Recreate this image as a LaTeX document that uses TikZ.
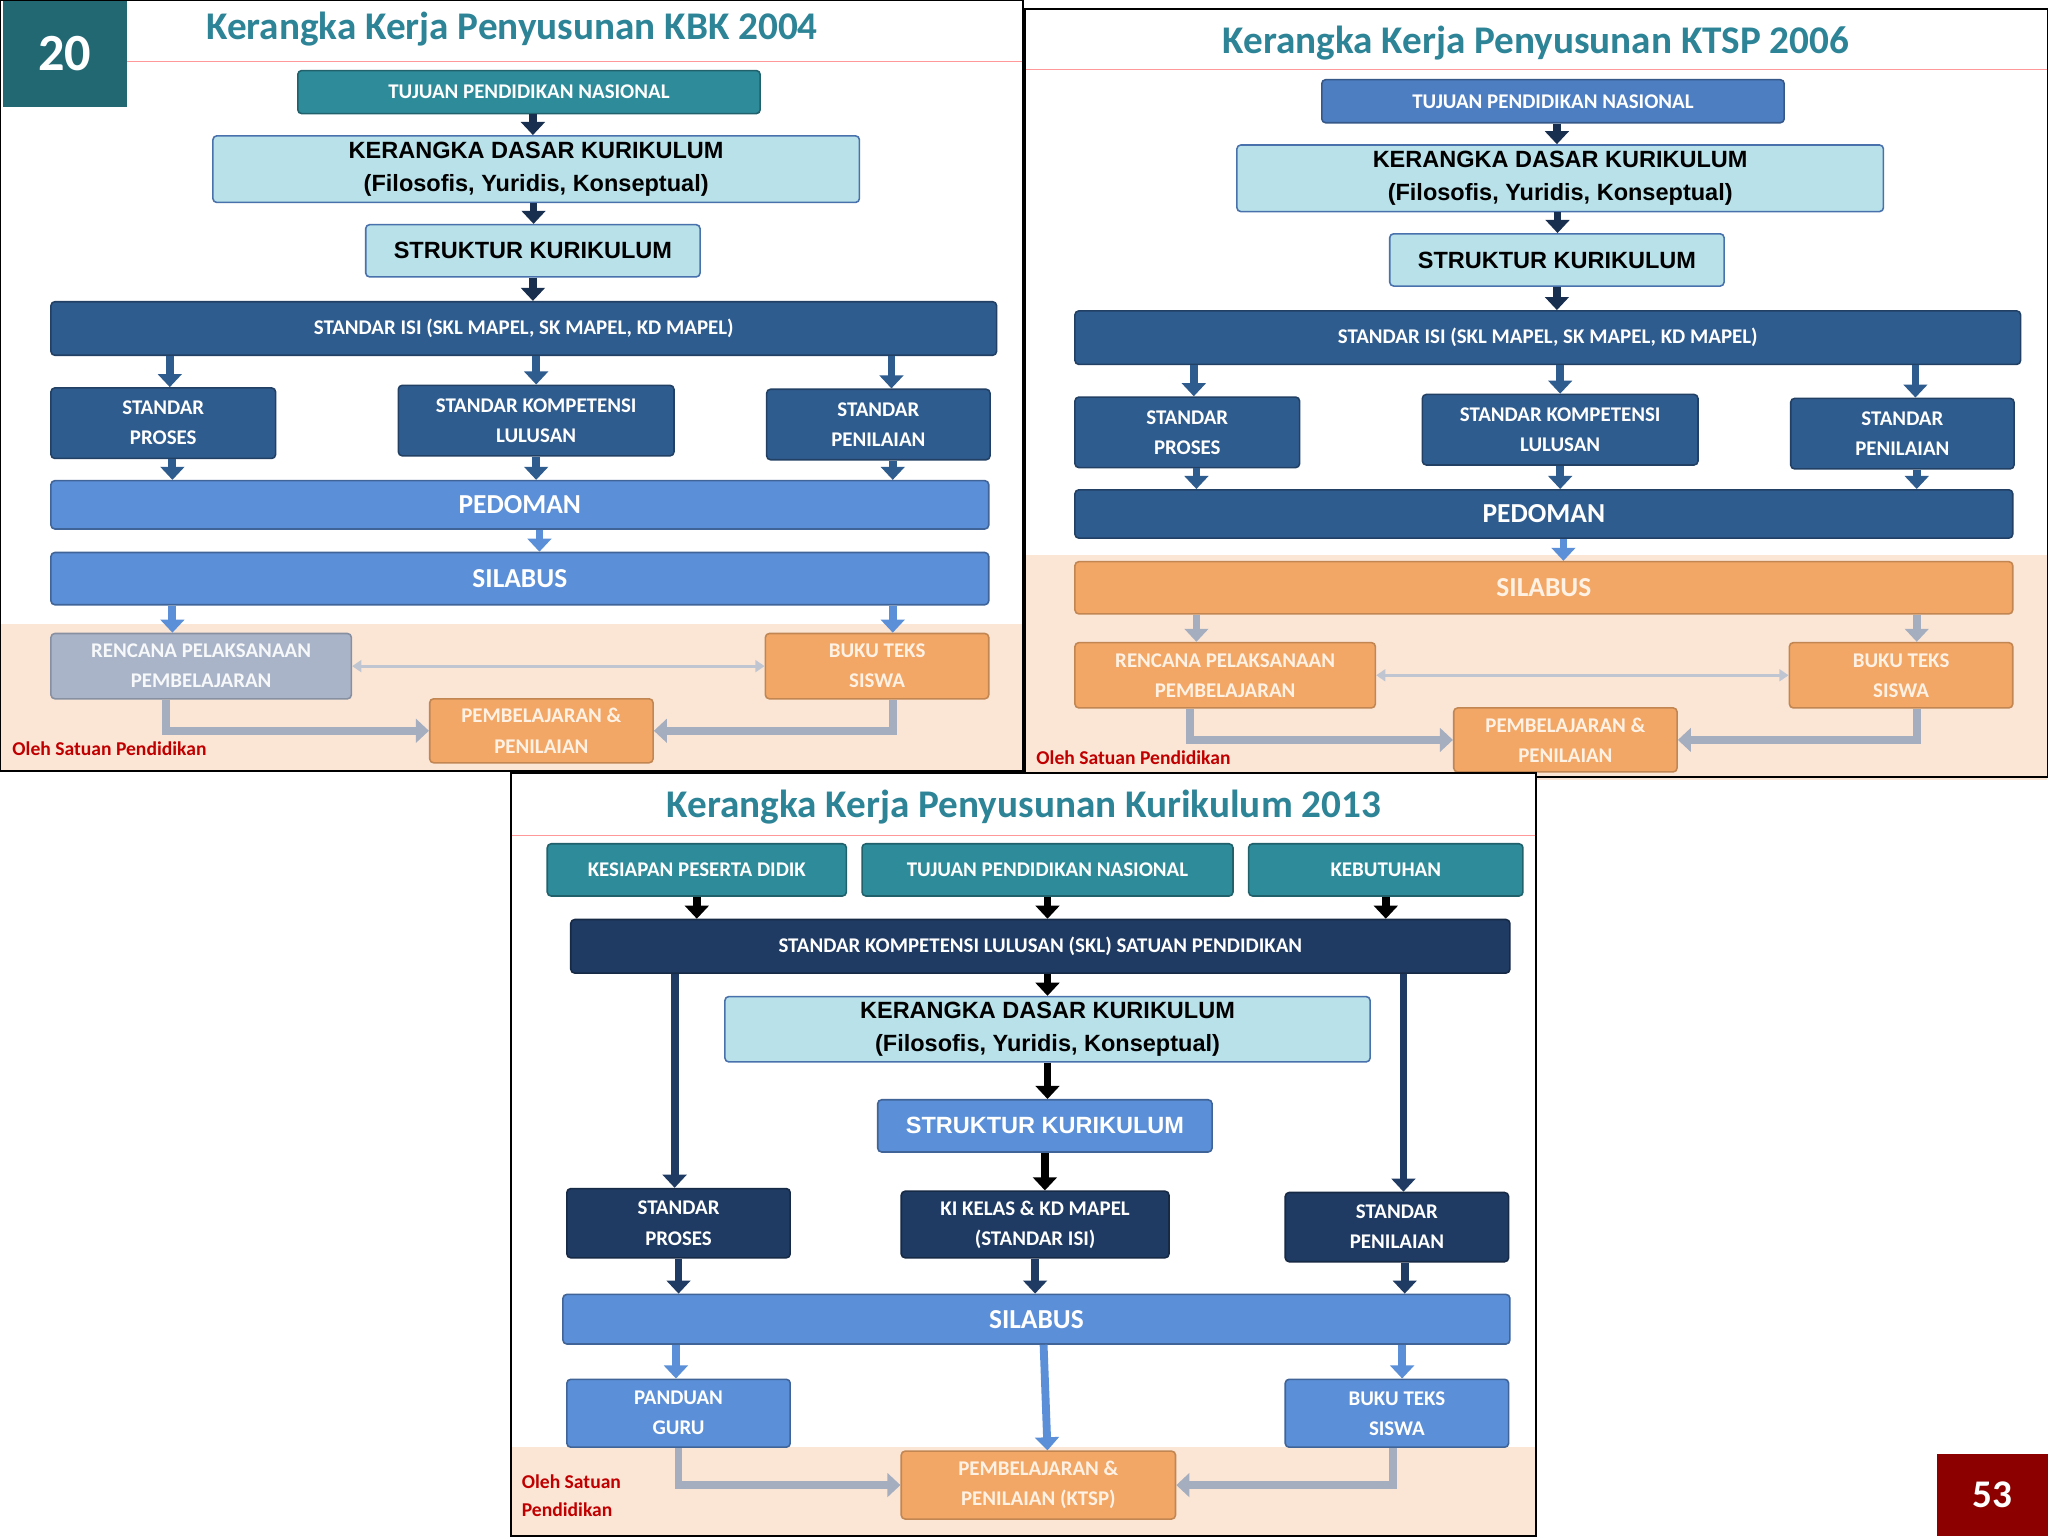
\documentclass[tikz,border=0pt]{standalone}
\usepackage{fontspec}
\setmainfont{Carlito}
\newfontfamily\arialf{Liberation Sans}
\usetikzlibrary{arrows.meta}
\definecolor{dkb}{HTML}{2F5C8F}
\definecolor{tlc}{HTML}{2E8B9A}
\definecolor{mdb}{HTML}{5B8FD8}
\definecolor{cyb}{HTML}{B8E1EA}
\definecolor{orc}{HTML}{F2A766}
\definecolor{grc}{HTML}{A9B4C8}
\definecolor{nvb}{HTML}{1F3B63}
\definecolor{pch}{HTML}{FBE6D6}
\definecolor{ttl}{HTML}{2E8497}
\definecolor{tjb}{HTML}{4D7EC2}
\definecolor{rdc}{HTML}{C00000}
\definecolor{arg}{HTML}{A5AEBE}
\tikzset{
 bx/.style={rectangle,rounded corners=3,line width=1.2,inner sep=0,align=center,text=white,font=\bfseries\fontsize{16}{23}\selectfont},
 dk/.style={bx,fill=dkb,draw=dkb!70!black},
 tl/.style={bx,fill=tlc,draw=tlc!70!black},
 tj/.style={bx,fill=tjb,draw=tjb!70!black},
 md/.style={bx,fill=mdb,draw=mdb!70!black},
 nv/.style={bx,fill=nvb,draw=nvb!70!black},
 cy/.style={bx,fill=cyb,draw=mdb!80!black,text=black,font=\arialf\bfseries\fontsize{18}{25}\selectfont},
 or/.style={bx,fill=orc,draw=orc!80!black,text=orange!10},
 gr/.style={bx,fill=grc,draw=grc!80!black,text=white!90!grc},
 big/.style={font=\bfseries\fontsize{21}{25}\selectfont},
 blk/.style={line width=6,-{Triangle[width=18,length=10]},draw=#1},
 blk/.default=dkb,
 gl/.style={line width=6,-{Triangle[width=18,length=10]},draw=arg},
 dbl/.style={line width=2.5,{Triangle[width=9,length=7]}-{Triangle[width=9,length=7]},draw=arg!70},
 ttlf/.style={text=ttl,font=\bfseries\fontsize{30}{34}\selectfont},
 oleh/.style={text=rdc,font=\bfseries\fontsize{15}{21}\selectfont,anchor=west,align=left},
}
\newcommand\bxx[7]{\node[#6,minimum width={(#4-#2)*1pt},minimum height={(#5-#3)*1pt}] (#1) at ({(#2+#4)/2},{(#3+#5)/2}) {#7};}
% #1 tujuan style, #2 pedoman style, #3 silabus style, #4 rpp style, #5 ped->sil arrow colour, #6 sil->rpp colour, #7 peach top
\newcommand\kpanel[7]{
 \fill[pch] (0,#7) rectangle (783,590);
 \bxx{tuj}{228}{54}{582}{87}{#1}{TUJUAN PENDIDIKAN NASIONAL}
 \bxx{ker}{163}{104}{658}{155}{cy}{KERANGKA DASAR KURIKULUM\\(Filosofis, Yuridis, Konseptual)}
 \bxx{str}{280}{172}{536}{212}{cy}{STRUKTUR KURIKULUM}
 \bxx{isi}{39}{231}{763}{272}{dk}{STANDAR ISI (SKL MAPEL, SK MAPEL, KD MAPEL)}
 \bxx{pro}{39}{297}{211}{351}{dk}{STANDAR\\PROSES}
 \bxx{skl}{305}{295}{516}{349}{dk}{STANDAR KOMPETENSI\\LULUSAN}
 \bxx{pen}{587}{298}{758}{352}{dk}{STANDAR\\PENILAIAN}
 \bxx{ped}{39}{368}{757}{405}{#2,big}{PEDOMAN}
 \bxx{sil}{39}{423}{757}{463}{#3,big}{SILABUS}
 \bxx{rpp}{39}{485}{269}{535}{#4}{RENCANA PELAKSANAAN\\PEMBELAJARAN}
 \bxx{buk}{586}{485}{757}{535}{or}{BUKU TEKS\\SISWA}
 \bxx{pem}{329}{535}{500}{584}{or}{PEMBELAJARAN \&\\PENILAIAN}
 \node[oleh] (ol) at (6,573) {Oleh Satuan Pendidikan};
 \draw[blk=nvb!80!black] ([xshift=3]tuj.south) -- ([xshift=3]tuj.south |- ker.north);
 \draw[blk=nvb!80!black] ([xshift=-2]ker.south) -- ([xshift=-2]ker.south |- str.north);
 \draw[blk=nvb!80!black] (str.south) -- (str.south |- isi.north);
 \draw[blk] ([xshift=5]isi.south -| pro.north) -- ([xshift=5]pro.north);
 \draw[blk] (isi.south -| skl.north) -- (skl.north);
 \draw[blk] ([xshift=10]isi.south -| pen.north) -- ([xshift=10]pen.north);
 \draw[blk] ([xshift=7]pro.south) -- ([xshift=7]pro.south |- ped.north);
 \draw[blk] (skl.south) -- (skl.south |- ped.north);
 \draw[blk] ([xshift=11]pen.south) -- ([xshift=11]pen.south |- ped.north);
 \draw[blk=#5] ([xshift=15]ped.south) -- ([xshift=15]ped.south |- sil.north);
 \draw[blk=#6] ([xshift=-266]sil.south) -- ([xshift=-266]sil.south |- rpp.north);
 \draw[blk=#6] ([xshift=12]buk.north |- sil.south) -- ([xshift=12]buk.north);
 \draw[dbl] (rpp.east) -- (buk.west);
 \draw[gl] ([xshift=-27]rpp.south) |- (pem.west);
 \draw[gl] ([xshift=12]buk.south) |- (pem.east);
}
\begin{document}
\begin{tikzpicture}[x=1pt,y=-1pt]
\fill[white] (0,0) rectangle (1568,1176);
\useasboundingbox (0,0) rectangle (1568,1176);
% panel 1
\begin{scope}[name prefix=a-]
\kpanel{tl}{md}{md}{gr}{mdb}{mdb}{478}
\draw[red!40,line width=0.8] (97,47) -- (783,47);
\node[ttlf] (t1) at (392,22) {Kerangka Kerja Penyusunan KBK 2004};
\node[fill=tlc!75!black,minimum width=95,minimum height=82,inner sep=0,text=white,font=\bfseries\fontsize{40}{44}\selectfont] (n20) at (49.5,41) {20};
\draw[line width=1.5] (0,0) rectangle (783,590);
\end{scope}
% panel 2
\begin{scope}[shift={(784,7)},name prefix=b-]
\kpanel{tj}{dk}{or}{or}{mdb}{arg}{418}
\draw[red!40,line width=0.8] (1,46) -- (784,46);
\node[ttlf] (t2) at (392,26) {Kerangka Kerja Penyusunan KTSP 2006};
\draw[line width=1.5] (1,0) rectangle (784,588);
\end{scope}
% panel 3
\begin{scope}[name prefix=c-]
\fill[white] (391,592) rectangle (1176,1176);
\fill[pch] (391,1108) rectangle (1176,1176);
\draw[red!40,line width=0.8] (391,640) -- (1176,640);
\node[ttlf] (t3) at (784,618) {Kerangka Kerja Penyusunan Kurikulum 2013};
\bxx{kes}{419}{646}{648}{686}{tl}{KESIAPAN PESERTA DIDIK}
\bxx{tuj}{660}{646}{944}{686}{tl}{TUJUAN PENDIDIKAN NASIONAL}
\bxx{keb}{956}{646}{1166}{686}{tl}{KEBUTUHAN}
\bxx{skl}{437}{704}{1156}{745}{nv}{STANDAR KOMPETENSI LULUSAN (SKL) SATUAN PENDIDIKAN}
\bxx{ker}{555}{763}{1049}{813}{cy}{KERANGKA DASAR KURIKULUM\\(Filosofis, Yuridis, Konseptual)}
\bxx{str}{672}{842}{928}{882}{md,font=\arialf\bfseries\fontsize{18}{25}\selectfont}{STRUKTUR KURIKULUM}
\bxx{pro}{434}{910}{605}{963}{nv}{STANDAR\\PROSES}
\bxx{ki}{690}{912}{895}{963}{nv}{KI KELAS \& KD MAPEL\\(STANDAR ISI)}
\bxx{pen}{984}{913}{1155}{966}{nv}{STANDAR\\PENILAIAN}
\bxx{sil}{431}{991}{1156}{1029}{md,big}{SILABUS}
\bxx{pan}{434}{1056}{605}{1108}{md}{PANDUAN\\GURU}
\bxx{buk}{984}{1056}{1155}{1108}{md}{BUKU TEKS\\SISWA}
\bxx{pem}{690}{1111}{900}{1163}{or}{PEMBELAJARAN \&\\PENILAIAN (KTSP)}
\node[oleh] (ol) at (396,1145) {Oleh Satuan\\Pendidikan};
\draw[blk=black] (kes.south) -- (kes.south |- skl.north);
\draw[blk=black] (tuj.south) -- (tuj.south |- skl.north);
\draw[blk=black] (keb.south) -- (keb.south |- skl.north);
\draw[blk=black] (ker.north |- skl.south) -- (ker.north);
\draw[blk=nvb] ([xshift=-3]pro.north |- skl.south) -- ([xshift=-3]pro.north);
\draw[blk=nvb] ([xshift=5]pen.north |- skl.south) -- ([xshift=5]pen.north);
\draw[blk=black] (ker.south) -- (ker.south |- str.north);
\draw[blk=black] (str.south) -- (str.south |- ki.north);
\draw[blk=nvb] (pro.south) -- (pro.south |- sil.north);
\draw[blk=nvb] (ki.south) -- (ki.south |- sil.north);
\draw[blk=nvb] ([xshift=6]pen.south) -- ([xshift=6]pen.south |- sil.north);
\draw[blk=mdb] ([xshift=-2]pan.north |- sil.south) -- ([xshift=-2]pan.north);
\draw[blk=mdb] ([xshift=4]sil.south -| pem.north) -- ([xshift=7]pem.north);
\draw[blk=mdb] ([xshift=4]buk.north |- sil.south) -- ([xshift=4]buk.north);
\draw[gl] (pan.south) |- (pem.west);
\draw[gl] ([xshift=-3]buk.south) |- (pem.east);
\draw[line width=1.5] (391,592) rectangle (1176,1176);
\end{scope}
\node[fill=red!55!black,minimum width=85,minimum height=63,inner sep=0,text=white,font=\bfseries\fontsize{30}{34}\selectfont] (n53) at (1525.5,1144.5) {53};
\end{tikzpicture}
\end{document}
